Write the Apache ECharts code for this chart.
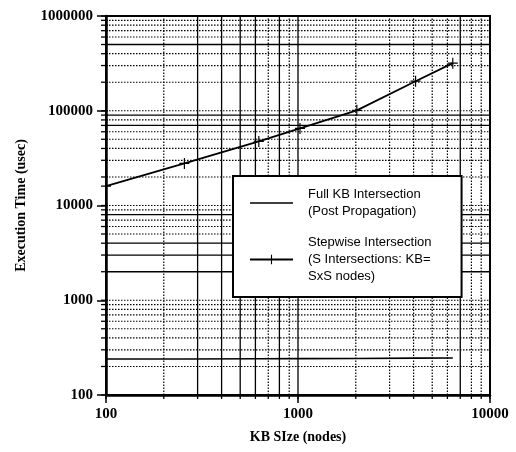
<!DOCTYPE html>
<html>
<head>
<meta charset="utf-8">
<script src="https://cdn.jsdelivr.net/npm/echarts@6/dist/echarts.min.js"></script>
<style>
  html, body { margin: 0; padding: 0; background: #fff; }
  #chart { width: 516px; height: 452px; }
</style>
</head>
<body>
<div id="chart"></div>
<script>
// KB size in nodes (S x S)
const kbSize = [100, 256, 625, 1024, 2025, 4096, 6400]
const fullKB = [240, 240, 241, 242, 243, 245, 246]
const stepwise = [16000, 27800, 47500, 65000, 101000, 205000, 318000]

const xTicks = [100, 1000, 10000]
const yTicks = [100, 1000, 10000, 100000, 1000000]
const minorMult = [2, 3, 4, 5, 6, 7, 8, 9]
// grid lines that print solid in the scan, the rest are dotted
const solidX = [300, 400, 500, 600, 800, 1000, 7000]
const solidY = [2000, 3000, 4000, 8000, 70000, 90000, 500000]

const nameFull = 'Full KB Intersection\n(Post Propagation)'
const nameStep = 'Stepwise Intersection\n(S Intersections: KB=\nSxS nodes)'

function gridValues (ticks) {
  let out = []
  ticks.forEach((t, i) => {
    out.push(t)
    if (i < ticks.length - 1) {
      minorMult.forEach(m => out.push(t * m))
    }
  })
  return out
}
const xGrid = gridValues(xTicks)
const yGrid = gridValues(yTicks)

function plainNum (v) {
  return String(Math.round(v))
}

let myChart = echarts.init(document.getElementById('chart'))

let option = {
  backgroundColor: '#fff',
  animation: false,
  grid: {
    left: 106,
    right: 26,
    top: 16,
    bottom: 57,
    show: true,
    borderColor: '#000',
    borderWidth: 2
  },
  legend: {
    data: [
      { name: nameFull, icon: 'path://M0,0H43V1.6H0Z' },
      { name: nameStep }
    ],
    orient: 'vertical',
    left: 233,
    top: 176,
    padding: [10, 30, 12, 16],
    itemGap: 14,
    itemWidth: 43,
    itemHeight: 12,
    backgroundColor: '#fff',
    borderColor: '#000',
    borderWidth: 2,
    borderRadius: 0,
    textStyle: {
      color: '#000',
      fontFamily: 'Liberation Sans Narrow, Liberation Sans, Arial',
      fontSize: 13,
      lineHeight: 17,
      padding: [0, 0, 0, 10]
    }
  },
  xAxis: {
    type: 'log',
    logBase: 10,
    min: 100,
    max: 10000,
    name: 'KB SIze (nodes)',
    nameLocation: 'middle',
    nameGap: 35,
    nameTextStyle: {
      color: '#000',
      fontFamily: 'Liberation Serif, Times New Roman',
      fontWeight: 'bold',
      fontSize: 14
    },
    axisLine: { lineStyle: { color: '#000', width: 2.5 } },
    axisTick: { show: true, length: 8, lineStyle: { color: '#000', width: 1.5 } },
    axisLabel: {
      color: '#000',
      margin: 12,
      fontFamily: 'Liberation Serif, Times New Roman',
      fontWeight: 'bold',
      fontSize: 15,
      formatter: plainNum
    },
    splitLine: { show: false }
  },
  yAxis: {
    type: 'log',
    logBase: 10,
    min: 100,
    max: 1000000,
    name: 'Execution Time (usec)',
    nameLocation: 'middle',
    nameRotate: 90,
    nameGap: 78,
    nameTextStyle: {
      color: '#000',
      fontFamily: 'Liberation Serif, Times New Roman',
      fontWeight: 'bold',
      fontSize: 14
    },
    axisLine: { lineStyle: { color: '#000', width: 2.5 } },
    axisTick: { show: true, length: 9, lineStyle: { color: '#000', width: 1.5 } },
    axisLabel: {
      color: '#000',
      margin: 13,
      fontFamily: 'Liberation Serif, Times New Roman',
      fontWeight: 'bold',
      fontSize: 15,
      formatter: plainNum
    },
    splitLine: { show: false }
  },
  series: [
    {
      // vertical grid lines + minor ticks on the x axis
      type: 'custom',
      silent: true,
      z: 1,
      clip: false,
      data: xGrid.map(v => [v, 100]),
      renderItem: function (params, api) {
        let v = api.value(0)
        let p0 = api.coord([v, 100])
        let p1 = api.coord([v, 1000000])
        let solid = solidX.indexOf(v) >= 0
        return {
          type: 'group',
          children: [{
            type: 'line',
            shape: { x1: p0[0], y1: p0[1], x2: p1[0], y2: p1[1] },
            style: { stroke: '#000', lineWidth: solid ? 1.3 : 1.2, lineDash: solid ? null : [1.5, 1.5] }
          }, {
            type: 'line',
            shape: { x1: p0[0], y1: p0[1], x2: p0[0], y2: p0[1] + 4 },
            style: { stroke: '#000', lineWidth: 1.3 }
          }]
        }
      }
    },
    {
      // horizontal grid lines + minor ticks on the y axis
      type: 'custom',
      silent: true,
      z: 1,
      clip: false,
      data: yGrid.map(v => [100, v]),
      renderItem: function (params, api) {
        let v = api.value(1)
        let p0 = api.coord([100, v])
        let p1 = api.coord([10000, v])
        let solid = solidY.indexOf(v) >= 0
        return {
          type: 'group',
          children: [{
            type: 'line',
            shape: { x1: p0[0], y1: p0[1], x2: p1[0], y2: p1[1] },
            style: { stroke: '#000', lineWidth: solid ? 1.3 : 1.2, lineDash: solid ? null : [1.5, 1.5] }
          }, {
            type: 'line',
            shape: { x1: p0[0] - 5, y1: p0[1], x2: p0[0] + 2, y2: p0[1] },
            style: { stroke: '#000', lineWidth: 1.3 }
          }]
        }
      }
    },
    {
      name: nameFull,
      type: 'line',
      z: 5,
      symbol: 'none',
      data: kbSize.map((x, i) => [x, fullKB[i]]),
      lineStyle: { color: '#000', width: 1.6 },
      itemStyle: { color: '#000' }
    },
    {
      name: nameStep,
      type: 'line',
      z: 5,
      symbol: 'path://M-0.7,-6H0.7V6H-0.7Z M-6,-0.7H6V0.7H-6Z',
      symbolSize: [10, 11],
      showSymbol: true,
      data: kbSize.map((x, i) => [x, stepwise[i]]),
      lineStyle: { color: '#000', width: 1.8 },
      itemStyle: { color: '#000' }
    }
  ]
}

myChart.setOption(option, true)
window.addEventListener('resize', function () {
  myChart.resize()
})
</script>
</body>
</html>
